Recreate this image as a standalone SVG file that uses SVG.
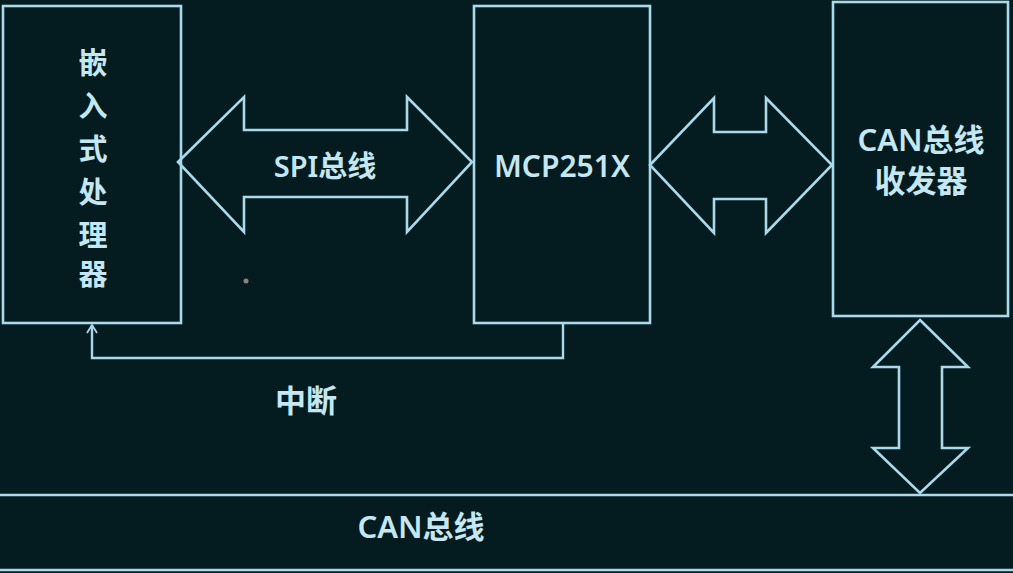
<svg xmlns="http://www.w3.org/2000/svg" width="1013" height="573" viewBox="0 0 1013 573">
<defs>
<style>
.bg{fill:#041c20}
.box{fill:none;stroke:#a9d9ea;stroke-width:2.6}
.arr{fill:none;stroke:#a9d9ea;stroke-width:2.6;stroke-linejoin:miter}
.line{fill:none;stroke:#a9d9ea;stroke-width:2.4}
.t{fill:#c4e7f3;font-family:"Noto Sans","Noto Sans CJK SC",sans-serif;font-weight:600}
</style>
<marker id="ah" viewBox="0 0 12 12" refX="11" refY="6" markerWidth="12" markerHeight="12" markerUnits="userSpaceOnUse" orient="auto">
<path d="M3,1 L11,6 L3,11" fill="none" stroke="#a9d9ea" stroke-width="1.8"/>
</marker>
</defs>
<rect class="bg" x="0" y="0" width="1013" height="573"/>
<g id="node-processor">
<rect class="box" x="3" y="6" width="178" height="317"/>
<g class="t" font-size="29" text-anchor="middle">
<text x="93" y="74">嵌</text>
<text x="93" y="117">入</text>
<text x="93" y="160">式</text>
<text x="93" y="203">处</text>
<text x="93" y="246">理</text>
<text x="93" y="285">器</text>
</g>
</g>
<g id="node-mcp">
<rect class="box" x="474" y="6" width="176" height="317"/>
<text class="t" x="562" y="177" font-size="30" text-anchor="middle">MCP251X</text>
</g>
<g id="node-transceiver">
<rect class="box" x="833" y="2" width="175" height="314"/>
<text class="t" x="921" y="151" font-size="31" text-anchor="middle">CAN总线</text>
<text class="t" x="921" y="192" font-size="31" text-anchor="middle">收发器</text>
</g>
<g id="node-canbus">
<line class="line" x1="0" y1="495" x2="1013" y2="495"/>
<line class="line" x1="0" y1="570" x2="1013" y2="570"/>
<text class="t" x="421" y="538" font-size="31" text-anchor="middle">CAN总线</text>
</g>
<g id="connectors">
<polygon class="arr" points="178,162 244,97 244,130 407,130 407,97 472,162 407,232 407,197 244,197 244,232"/>
<text class="t" x="325" y="177" font-size="29" text-anchor="middle">SPI总线</text>
<polygon class="arr" points="650,165 714,98 714,132 766,132 766,98 832,165 766,233 766,199 714,199 714,233"/>
<polygon class="arr" points="920,320 968,367 942,367 942,448 968,448 920,493 873,448 899,448 899,367 873,367"/>
<polyline class="line" points="563,323 563,358 92,358 92,325" marker-end="url(#ah)"/>
<text class="t" x="306" y="412" font-size="31" text-anchor="middle">中断</text>
</g>
<circle cx="246" cy="281" r="2.5" fill="#8d8475"/>
</svg>
